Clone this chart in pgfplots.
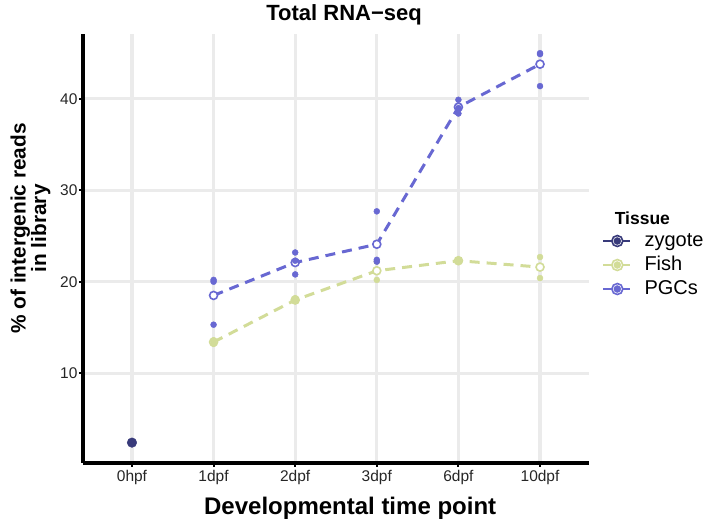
\documentclass[border=0pt]{standalone}
\usepackage{fontspec}
\setmainfont{Liberation Sans}
\usepackage{pgfplots}
\pgfplotsset{compat=1.18}

\definecolor{zyg}{RGB}{56,58,122}
\definecolor{fish}{RGB}{210,220,152}
\definecolor{pgc}{RGB}{104,104,210}
\definecolor{gridgray}{RGB}{235,235,235}

\begin{document}
\begin{tikzpicture}[x=1pt,y=1pt]
\useasboundingbox (0,0) rectangle (707,527);
\begin{axis}[
  at={(83pt,64pt)}, anchor=south west,
  scale only axis, width=506pt, height=429pt,
  xmin=-0.6, xmax=5.6, ymin=0.17, ymax=47.1,
  axis x line*=bottom, axis y line*=left,
  axis line style={line width=3.2pt, black, -},
  xtick={0,1,2,3,4,5},
  xticklabels={0hpf,1dpf,2dpf,3dpf,6dpf,10dpf},
  ytick={10,20,30,40},
  tick align=outside, major tick length=4pt,
  tick style={black, line width=2pt},
  grid=major, major grid style={gridgray, line width=3.2pt},
  ticklabel style={font=\fontsize{15.5}{17}\selectfont, text=black!85},
  /pgf/number format/assume math mode=true,
  yticklabel style={xshift=2pt},
  title={\bfseries Total RNA−seq},
  title style={font=\fontsize{22}{24}\selectfont, at={(axis description cs:0.516,1)}, anchor=base, yshift=7pt},
  xlabel={\bfseries Developmental time point},
  xlabel style={font=\fontsize{24}{26}\selectfont, at={(axis description cs:0.528,-0.121)}, anchor=base},
  ylabel={\bfseries \% of intergenic reads\\\bfseries in library},
  ylabel style={font=\fontsize{20.8}{20.5}\selectfont, align=center, at={(axis description cs:-0.104,0.547)}, anchor=center},
  legend style={at={(axis description cs:1.0198,0.4615)}, anchor=west, draw=none, fill=none,
    font=\fontsize{20}{22}\selectfont, row sep=4pt,
    nodes={text height=14pt, text depth=4pt, inner sep=1pt}},
  legend cell align=left,
  clip=false,
]
% legend images
\addlegendimage{legend image code/.code={
  \draw[zyg, line width=2.2pt] (0pt,0pt) -- (27pt,0pt);
  \draw[zyg, line width=1.6pt, fill=white] (14pt,0pt) circle (5.5pt);
  \fill[zyg] (14pt,0pt) circle (3.5pt);
  \path (40pt,0pt);}}
\addlegendentry{zygote}
\addlegendimage{legend image code/.code={
  \draw[fish, line width=2.2pt] (0pt,0pt) -- (27pt,0pt);
  \draw[fish, line width=1.6pt, fill=white] (14pt,0pt) circle (5.5pt);
  \fill[fish] (14pt,0pt) circle (3.5pt);
  \path (40pt,0pt);}}
\addlegendentry{Fish}
\addlegendimage{legend image code/.code={
  \draw[pgc, line width=2.2pt] (0pt,0pt) -- (27pt,0pt);
  \draw[pgc, line width=1.6pt, fill=white] (14pt,0pt) circle (5.5pt);
  \fill[pgc] (14pt,0pt) circle (3.5pt);
  \path (40pt,0pt);}}
\addlegendentry{PGCs}

% Fish mean line and points
\addplot[fish, line width=3pt, dash pattern=on 10pt off 7pt, forget plot,
  mark=*, mark options={solid, line width=1.6pt, fill=white, draw=fish}, mark size=4pt]
  coordinates {(1,13.4) (2,18.0) (3,21.2) (4,22.3) (5,21.6)};
% Fish replicates
\addplot[only marks, mark=*, fish, mark size=3pt, forget plot]
  coordinates {(1,13.2) (1,13.4) (1,13.6) (2,17.9) (2,18.0) (2,18.2)
               (3,20.2) (3,22.2) (4,22.2) (4,22.4) (4,22.3) (5,22.7) (5,20.4)};

% PGC mean line and points
\addplot[pgc, line width=3pt, dash pattern=on 10pt off 7pt, forget plot,
  mark=*, mark options={solid, line width=1.6pt, fill=white, draw=pgc}, mark size=4pt]
  coordinates {(1,18.5) (2,22.1) (3,24.1) (4,39.1) (5,43.8)};
% PGC replicates
\addplot[only marks, mark=*, pgc, mark size=3pt, forget plot]
  coordinates {(1,20.2) (1,20.0) (1,15.3) (2,23.2) (2,20.8) (2,22.3)
               (3,27.7) (3,22.4) (3,22.2) (4,39.9) (4,38.4) (4,39.0)
               (5,44.9) (5,41.4) (5,45.0)};

% zygote
\addplot[only marks, mark=*, zyg, mark size=4.8pt, forget plot]
  coordinates {(0,2.4)};

\node[anchor=west, font=\fontsize{17.5}{19}\selectfont\bfseries] at (axis description cs:1.044,0.571) {Tissue};
\end{axis}
\end{tikzpicture}
\end{document}
